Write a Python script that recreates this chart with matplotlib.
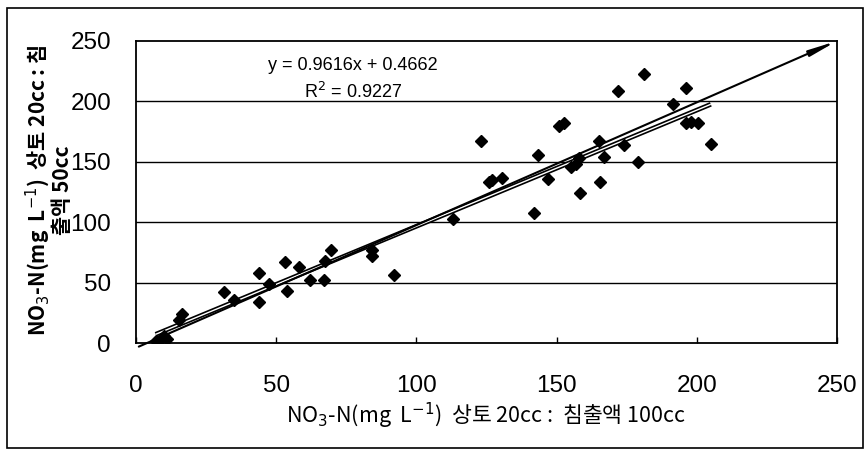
import matplotlib
matplotlib.use("Agg")
import matplotlib.pyplot as plt
from matplotlib.patches import Rectangle

plt.rcParams['font.family'] = ['Liberation Sans', 'Noto Sans CJK KR', 'DejaVu Sans']

# measured points (x: 100cc extract, y: 50cc extract)
x_vals = [7, 9, 11, 10, 15.5, 16.5, 31.5, 35, 44, 44, 47.5, 53, 54, 58,
          62, 67, 67.5, 69.5, 84, 84, 92, 113, 123, 126, 127, 130.5,
          142, 143.5, 147, 151, 152.5, 155, 157, 158, 158.5, 165, 165.5, 167,
          172, 174, 179, 181, 191.5, 196, 196, 198, 200.5, 205]
y_vals = [2, 3, 3, 6, 19, 24, 42, 36, 58, 34, 49, 67, 43, 63,
          52, 52, 68, 77, 77, 72, 56, 103, 167, 133, 135, 137,
          108, 156, 136, 180, 182, 146, 148, 153, 124, 167, 133, 154,
          209, 164, 150, 223, 198, 211, 182, 183, 182, 165]

slope, intercept = 0.9616, 0.4662
fit_x = [7, 205]
ref_x = [1, 250]
ref_y = [-3, 250]

xticks = [0, 50, 100, 150, 200, 250]
yticks = [0, 50, 100, 150, 200, 250]

fig = plt.figure(figsize=(8.68, 4.51), dpi=100)
ax = fig.add_axes([136 / 868, 1 - 343 / 451, 701 / 868, 302 / 451])

for yv in yticks[1:-1]:
    ax.axhline(yv, color='black', lw=1.0, zorder=1)

fit_y = [slope * v + intercept for v in fit_x]
ax.plot(fit_x, fit_y, color='black', lw=3.4, solid_capstyle='butt', zorder=3)
ax.plot(fit_x, fit_y, color='white', lw=1.0, solid_capstyle='butt', zorder=3)

ax.annotate('', xy=(ref_x[1], ref_y[1]), xytext=(ref_x[0], ref_y[0]),
            arrowprops=dict(arrowstyle='-|>,head_length=1.6,head_width=0.18',
                            color='black', lw=1.5, shrinkA=0, shrinkB=0),
            zorder=4, annotation_clip=False)

ax.plot(x_vals, y_vals, ls='None', marker='D', ms=5.8, color='black', zorder=5)

ax.set_xlim(0, 250)
ax.set_ylim(0, 250)
ax.set_xticks(xticks)
ax.set_yticks(yticks)
ax.tick_params(axis='x', direction='in', length=4, width=1, pad=23, labelsize=17.5)
ax.tick_params(axis='y', length=0, pad=18, labelsize=17.5)
for s in ax.spines.values():
    s.set_linewidth(1.3)

ax.text(0.31, 0.92, 'y = 0.9616x + 0.4662', transform=ax.transAxes,
        ha='center', va='center', fontsize=13)
ax.text(0.31, 0.83, 'R$^2$ = 0.9227', transform=ax.transAxes,
        ha='center', va='center', fontsize=13)

label_font = ['Noto Sans CJK KR', 'DejaVu Sans']
fig.text(486 / 868, 1 - 416 / 451,
         'NO$_3$-N(mg  L$^{-1}$)  상토 20cc :  침출액 100cc',
         ha='center', va='center', fontsize=15.5, family=label_font)
fig.text(48 / 868, 1 - 190 / 451,
         'NO$_3$-N(mg  L$^{-1}$)  상토 20cc : 침\n출액 50cc',
         rotation=90, ha='center', va='center', multialignment='center',
         fontsize=15, fontweight='bold', family=label_font, linespacing=1.0)

fig.patches.append(Rectangle((7 / 868, 3 / 451), 856 / 868, 440 / 451,
                             transform=fig.transFigure, fill=False,
                             edgecolor='black', lw=1.2))

fig.savefig('out.png', dpi=100)
